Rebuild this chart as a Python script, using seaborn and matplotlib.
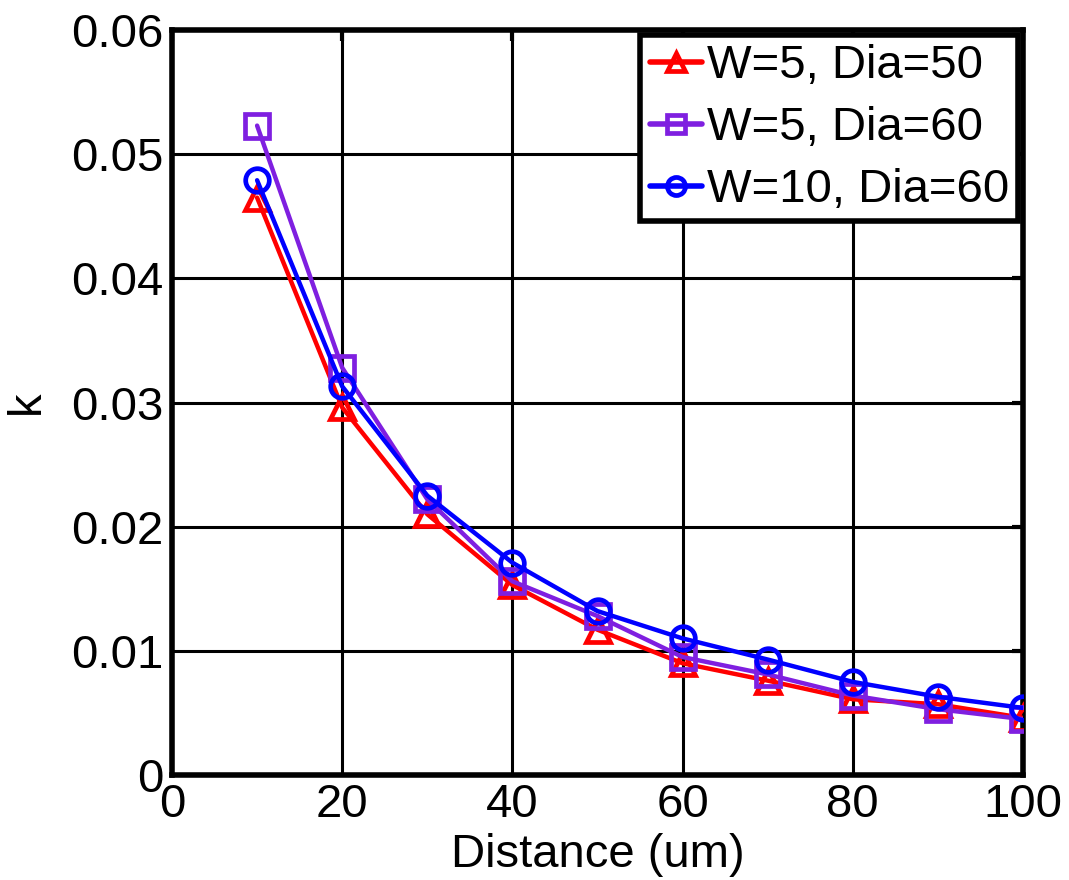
import matplotlib
matplotlib.use("Agg")
import matplotlib.pyplot as plt
import seaborn as sns
import pandas as pd

distance = [10, 20, 30, 40, 50, 60, 70, 80, 90, 100]
k_w5_d50 = [0.0465, 0.0296, 0.0210, 0.0153, 0.0117, 0.0090, 0.0076, 0.0061, 0.0057, 0.0046]
k_w5_d60 = [0.0523, 0.0328, 0.0222, 0.0156, 0.0128, 0.0095, 0.0081, 0.0064, 0.0053, 0.0045]
k_w10_d60 = [0.0479, 0.0313, 0.0225, 0.0171, 0.0132, 0.0110, 0.0093, 0.0075, 0.0063, 0.0054]

series_names = ["W=5, Dia=50", "W=5, Dia=60", "W=10, Dia=60"]
x_ticks = [0, 20, 40, 60, 80, 100]
y_ticks = [0, 0.01, 0.02, 0.03, 0.04, 0.05, 0.06]
y_tick_labels = ["0", "0.01", "0.02", "0.03", "0.04", "0.05", "0.06"]

df = pd.DataFrame({
    "Distance": distance * 3,
    "k": k_w5_d50 + k_w5_d60 + k_w10_d60,
    "series": sum([[n] * len(distance) for n in series_names], []),
})

sns.set_theme(style="white")
plt.rcParams["font.family"] = ["Liberation Sans", "DejaVu Sans"]
plt.rcParams["text.color"] = "black"
plt.rcParams["axes.labelcolor"] = "black"

fig = plt.figure(figsize=(10.69, 8.80), dpi=100)
ax = fig.add_axes([172 / 1069, 105 / 880, 851 / 1069, 745 / 880])

palette = {"W=5, Dia=50": "#ff0000", "W=5, Dia=60": "#7f1fe0", "W=10, Dia=60": "#0000ff"}
markers = {"W=5, Dia=50": "^", "W=5, Dia=60": "s", "W=10, Dia=60": "o"}

sns.lineplot(
    data=df, x="Distance", y="k", hue="series", style="series",
    hue_order=series_names, style_order=series_names,
    palette=palette, markers=markers, dashes=False,
    linewidth=3.2, markersize=17, markerfacecolor="none",
    markeredgewidth=3.4, ax=ax, zorder=3,
)
for line in ax.lines:
    line.set_markerfacecolor("none")
    line.set_markeredgecolor(line.get_color())

ax.set_xlim(0, 100)
ax.set_ylim(0, 0.06)
ax.set_xticks(x_ticks)
ax.set_yticks(y_ticks)
ax.set_yticklabels(y_tick_labels)
ax.grid(True, color="black", linewidth=2.2, linestyle="-")
ax.set_axisbelow(True)
for s in ax.spines.values():
    s.set_linewidth(4)
    s.set_color("black")
    s.set_visible(True)
ax.tick_params(axis="both", which="major", direction="in", length=8, width=3,
               labelsize=34, colors="black", pad=6, top=True, right=True)
ax.set_xlabel("Distance (um)", fontsize=34, labelpad=4, color="black")
ax.set_ylabel("k", fontsize=34, labelpad=16, color="black")

leg = ax.legend(
    loc="upper right", fontsize=34, frameon=True, fancybox=False,
    edgecolor="black", framealpha=1, borderaxespad=0.1,
    handlelength=1.1, handletextpad=0.1, borderpad=0.2, labelspacing=0.38,
)
leg.get_frame().set_linewidth(4)
for t in leg.get_texts():
    t.set_color("black")
for h in leg.legend_handles:
    h.set_markerfacecolor("none")
    h.set_markersize(13)
    h.set_linewidth(4)

fig.savefig("out.png", dpi=100)
